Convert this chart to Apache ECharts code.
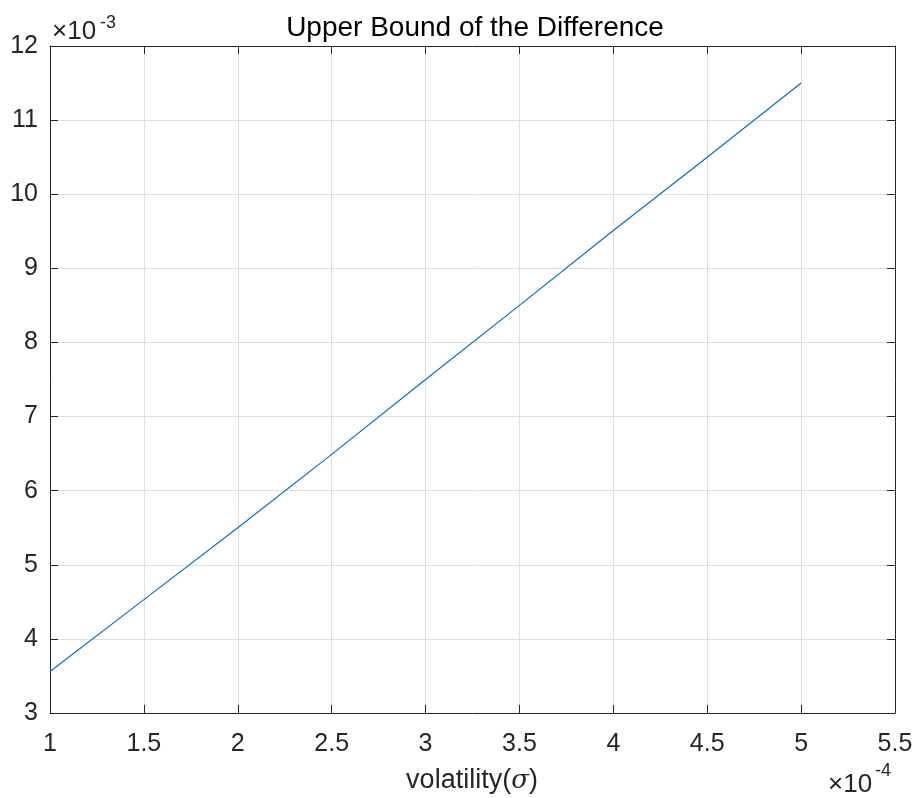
<!DOCTYPE html>
<html><head><meta charset="utf-8">
<script src="https://cdn.jsdelivr.net/npm/echarts@6/dist/echarts.min.js"></script>
<style>html,body{margin:0;padding:0;background:#fff}#c{width:919px;height:798px}</style>
</head><body><div id="c"></div>
<script>
// volatility sigma in units of 1e-4
const sigmaX = [1, 1.5, 2, 2.5, 3, 3.5, 4, 4.5, 5];
// upper bound in units of 1e-3
const upperBound = [3.56, 4.53, 5.5, 6.49, 7.5, 8.5, 9.51, 10.5, 11.5];
const xTicks = [1, 1.5, 2, 2.5, 3, 3.5, 4, 4.5, 5, 5.5];
const yTicks = [3, 4, 5, 6, 7, 8, 9, 10, 11, 12];

const FONT = '"Liberation Sans", Arial, Helvetica, sans-serif';
const TXT = '#262626';
const chart = echarts.init(document.getElementById('c'));
const axisCommon = {
  type: 'value',
  axisLine: { show: true, onZero: false, lineStyle: { color: TXT, width: 1 } },
  axisTick: { show: true, inside: true, length: 8, lineStyle: { color: TXT, width: 1 } }
};
function txt(x, y, text, size, align) {
  return { type: 'text', z: 100, style: { x: x, y: y, text: text, align: align || 'left', verticalAlign: 'middle',
    font: size + 'px ' + FONT, fill: TXT } };
}
chart.setOption({
  animation: false,
  grid: { left: 50, right: 24, top: 46, bottom: 85 },
  xAxis: [
    Object.assign({}, axisCommon, {
      min: xTicks[0], max: xTicks[xTicks.length - 1], interval: 0.5,
      position: 'bottom',
      axisLabel: { margin: 19, fontFamily: FONT, fontSize: 25, color: TXT },
      splitLine: { show: true, lineStyle: { color: '#dfdfdf', width: 1 } }
    }),
    Object.assign({}, axisCommon, {
      min: xTicks[0], max: xTicks[xTicks.length - 1], interval: 0.5,
      position: 'top', axisLabel: { show: false }, splitLine: { show: false }
    })
  ],
  yAxis: [
    Object.assign({}, axisCommon, {
      min: yTicks[0], max: yTicks[yTicks.length - 1], interval: 1,
      position: 'left',
      axisLabel: { margin: 12, fontFamily: FONT, fontSize: 25, color: TXT },
      splitLine: { show: true, lineStyle: { color: '#dfdfdf', width: 1 } }
    }),
    Object.assign({}, axisCommon, {
      min: yTicks[0], max: yTicks[yTicks.length - 1], interval: 1,
      position: 'right', axisLabel: { show: false }, splitLine: { show: false }
    })
  ],
  series: [{
    type: 'line', xAxisIndex: 0, yAxisIndex: 0,
    data: sigmaX.map((x, i) => [x, upperBound[i]]),
    showSymbol: false, symbol: 'none',
    lineStyle: { color: '#0072BD', width: 1.2 }
  }],
  graphic: [
    { type: 'text', z: 100, style: { x: 475, y: 28, text: 'Upper Bound of the Difference', align: 'center', verticalAlign: 'middle',
      font: '28px ' + FONT, fill: '#000' } },
    txt(52, 32, '×10', 26),
    txt(100, 23, '-3', 18),
    txt(828, 785, '×10', 26),
    txt(875, 771, '-4', 18),
    {
      type: 'text', z: 100,
      style: {
        x: 472, y: 781, align: 'center', verticalAlign: 'middle',
        text: '{a|volatility(}{g|σ}{a|)}',
        rich: {
          a: { fontFamily: FONT, fontSize: 27, fill: TXT },
          g: { fontFamily: '"DejaVu Serif", "Liberation Serif", serif', fontStyle: 'italic', fontSize: 26, fill: TXT }
        }
      }
    }
  ]
});
</script></body></html>
